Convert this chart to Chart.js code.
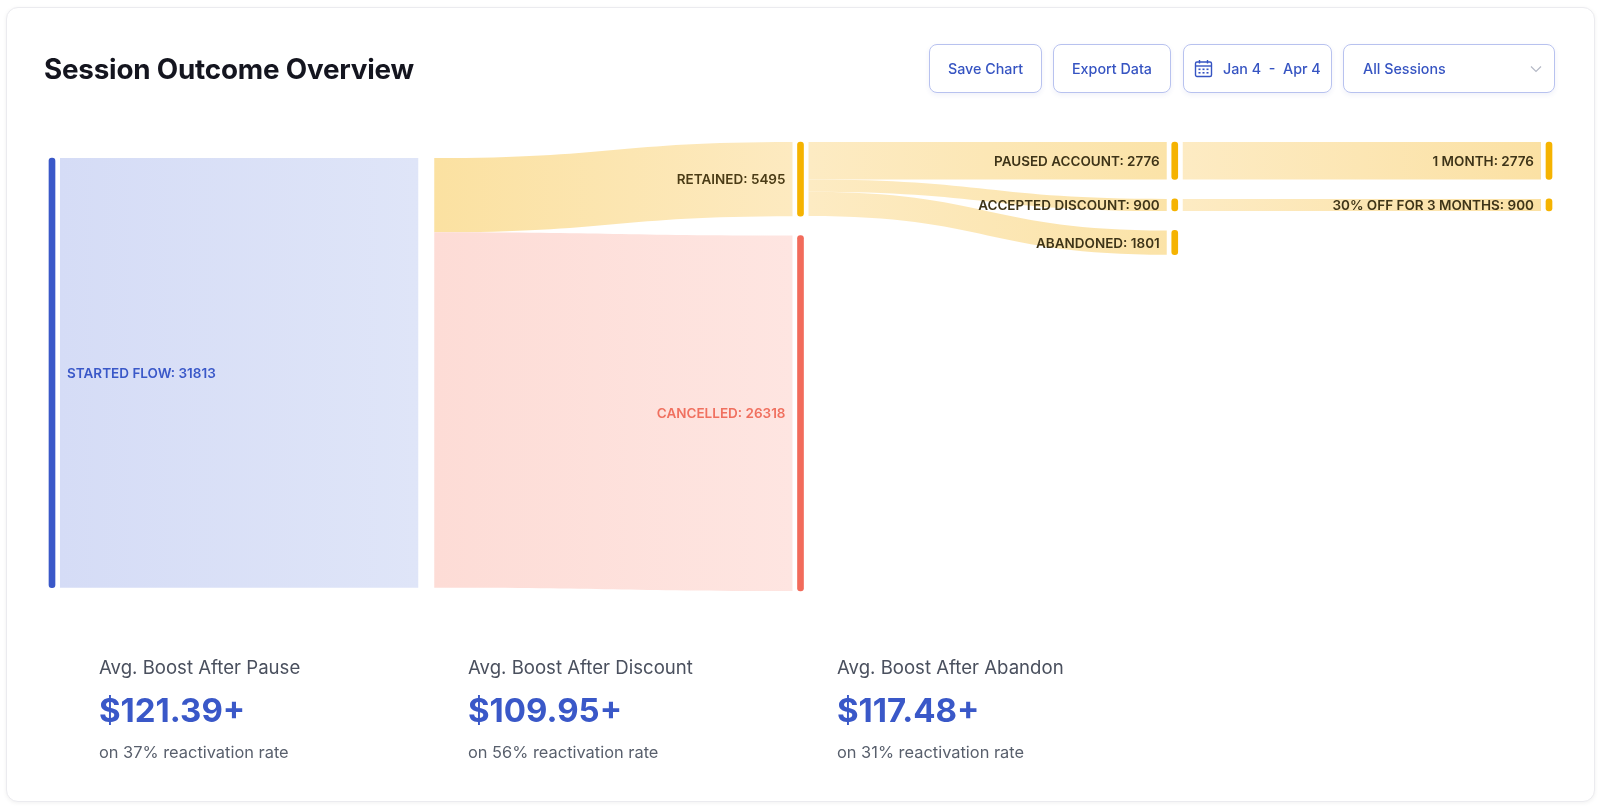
<!DOCTYPE html>
<html>
<head>
<meta charset="utf-8">
<script src="https://cdn.jsdelivr.net/npm/chart.js@4.4.1/dist/chart.umd.min.js"></script>
<style>
html,body{margin:0;padding:0;background:#ffffff;width:1600px;height:808px;overflow:hidden;font-family:Inter,"Noto Sans",sans-serif;}
.card{position:absolute;left:6px;top:7px;width:1587px;height:793px;border:1px solid #ebebef;border-radius:12px;box-shadow:0 1px 4px rgba(0,0,0,0.06);background:#fff;}
#wrap{position:absolute;left:0;top:0;width:1600px;height:808px;}
.title{position:absolute;left:44px;top:49px;margin:0;font-size:27.8px;font-weight:700;color:#14151f;line-height:40px;letter-spacing:-0.2px;white-space:nowrap;}
.btn{position:absolute;top:44px;height:49px;box-sizing:border-box;border:1.6px solid #b8c2ef;border-radius:8px;color:#3654c2;font-size:14.3px;font-weight:500;display:flex;align-items:center;background:#fff;box-shadow:0 2px 5px rgba(60,80,180,0.08);white-space:nowrap;}
.stat{position:absolute;white-space:nowrap;}
.sl{font-size:18.6px;color:#4a505e;line-height:26px;}
.sv{font-size:33px;font-weight:700;color:#3a58c8;line-height:42px;}
.ss{font-size:16.4px;color:#585f6c;line-height:22px;}
</style>
</head>
<body>
<div class="card"></div>
<div id="wrap"><canvas id="c"></canvas></div>
<div class="title">Session Outcome Overview</div>
<div class="btn" style="left:929px;width:113px;justify-content:center;">Save Chart</div>
<div class="btn" style="left:1053px;width:118px;justify-content:center;">Export Data</div>
<div class="btn" style="left:1183px;width:149px;padding-left:10px;">
  <svg width="19" height="19" viewBox="0 0 19 19" style="margin-right:10px">
    <rect x="1.5" y="3" width="16" height="14.5" rx="1.5" fill="none" stroke="#3654c2" stroke-width="1.4"/>
    <line x1="1.5" y1="7" x2="17.5" y2="7" stroke="#3654c2" stroke-width="1.4"/>
    <line x1="5.5" y1="1" x2="5.5" y2="4.5" stroke="#3654c2" stroke-width="1.4"/>
    <line x1="13.5" y1="1" x2="13.5" y2="4.5" stroke="#3654c2" stroke-width="1.4"/>
    <g fill="#3654c2"><rect x="4.5" y="9.5" width="2" height="1.6"/><rect x="8.5" y="9.5" width="2" height="1.6"/><rect x="12.5" y="9.5" width="2" height="1.6"/><rect x="4.5" y="13" width="2" height="1.6"/><rect x="8.5" y="13" width="2" height="1.6"/><rect x="12.5" y="13" width="2" height="1.6"/></g>
  </svg>
  <span>Jan 4&nbsp;&nbsp;-&nbsp;&nbsp;Apr 4</span>
</div>
<div class="btn" style="left:1343px;width:212px;padding-left:19px;">
  <span>All Sessions</span>
  <svg width="12" height="8" viewBox="0 0 12 8" style="position:absolute;left:186px;top:20px"><polyline points="1,1.5 6,6.5 11,1.5" fill="none" stroke="#b5b9c6" stroke-width="1.2"/></svg>
</div>

<div class="stat sl" style="left:99px;top:654px;">Avg. Boost After Pause</div>
<div class="stat sv" style="left:99px;top:689px;">$121.39+</div>
<div class="stat ss" style="left:99px;top:741px;">on 37% reactivation rate</div>
<div class="stat sl" style="left:468px;top:654px;">Avg. Boost After Discount</div>
<div class="stat sv" style="left:468px;top:689px;">$109.95+</div>
<div class="stat ss" style="left:468px;top:741px;">on 56% reactivation rate</div>
<div class="stat sl" style="left:837px;top:654px;">Avg. Boost After Abandon</div>
<div class="stat sv" style="left:837px;top:689px;">$117.48+</div>
<div class="stat ss" style="left:837px;top:741px;">on 31% reactivation rate</div>

<script>
// ---------- DATA ----------
const nodeNames   = ['Started Flow', '', 'Retained', 'Cancelled', 'Paused Account', 'Accepted Discount', 'Abandoned', '1 Month', '30% Off For 3 Months'];
const nodeColumns = [0, 1, 2, 2, 3, 3, 3, 4, 4];
const linkSources = [0, 1, 1, 2, 2, 2, 4, 5];
const linkTargets = [1, 2, 3, 4, 5, 6, 7, 8];
const linkValues  = [31813, 5495, 26318, 2776, 900, 1801, 2776, 900];

// ---------- STYLES ----------
const nodeColors = ['#3a58c8', 'rgba(0,0,0,0)', '#f5b301', '#f26b5b', '#f5b301', '#f5b301', '#f5b301', '#f5b301', '#f5b301'];
const labelColors = ['#3a58c8', null, '#4b3c16', '#f0705f', '#3e3418', '#3e3418', '#3e3418', '#3e3418', '#3e3418'];
const linkGradients = [
  ['#d5dcf6', '#dfe5f8'],
  ['#fbe1a1', '#fdeac0'],
  ['#fddcd6', '#fee5e1'],
  ['#fdebc3', '#fbe3a8'],
  ['#fdebc3', '#fbe3a8'],
  ['#fdebc3', '#fbe3a8'],
  ['#fdebc3', '#fbe1a4'],
  ['#fdebc3', '#fbe1a4']
];
const NODE_PAD = 1436;     // vertical gap between nodes (value units)
const SINGLE_ALIGN = 0.83; // vertical alignment of single-node columns
const NODE_W = 6, FLOW_GAP = 5, LABEL_GAP = 12;

// ---------- LAYOUT ----------
const N = nodeNames.length;
const inSum = new Array(N).fill(0), outSum = new Array(N).fill(0);
linkValues.forEach((v, i) => { outSum[linkSources[i]] += v; inSum[linkTargets[i]] += v; });
const nodeValues = nodeNames.map((_, i) => Math.max(inSum[i], outSum[i]));
const maxCol = Math.max(...nodeColumns);
const cols = [];
for (let c = 0; c <= maxCol; c++) cols.push(nodeNames.map((_, i) => i).filter(i => nodeColumns[i] === c));
const colExtent = cols.map(ns => ns.reduce((s, i) => s + nodeValues[i], 0) + NODE_PAD * (ns.length - 1));
const yMax = Math.max(...colExtent);
const nodeY0 = new Array(N).fill(0);
const outOff = new Array(N).fill(0), inOff = new Array(N).fill(0);
const linkSY = [], linkTY = [];
cols.forEach((ns, c) => {
  if (ns.length === 1) {
    nodeY0[ns[0]] = (yMax - nodeValues[ns[0]]) * SINGLE_ALIGN;
  } else if (c === maxCol) {
    ns.forEach(i => {
      const li = linkTargets.indexOf(i);
      nodeY0[i] = li >= 0 ? linkSY[li] : 0;
    });
  } else {
    let cur = 0;
    ns.forEach(i => { nodeY0[i] = cur; cur += nodeValues[i] + NODE_PAD; });
  }
  linkSources.forEach((s, li) => {
    if (nodeColumns[s] === c) { linkSY[li] = nodeY0[s] + outOff[s]; outOff[s] += linkValues[li]; }
  });
});
linkTargets.forEach((t, li) => { linkTY[li] = nodeY0[t] + inOff[t]; inOff[t] += linkValues[li]; });

const barData = nodeNames.map((_, i) => ({ x: nodeColumns[i], y: [nodeY0[i], nodeY0[i] + nodeValues[i]] }));

// ---------- PLUGIN: flows + labels ----------
const sankeyPlugin = {
  id: 'sankeyFlows',
  beforeDatasetsDraw(chart) {
    const { ctx, scales: { x, y } } = chart;
    ctx.save();
    linkValues.forEach((v, li) => {
      const s = linkSources[li], t = linkTargets[li];
      const sx = x.getPixelForValue(nodeColumns[s]) + NODE_W / 2 + FLOW_GAP;
      const tx = x.getPixelForValue(nodeColumns[t]) - NODE_W / 2 - FLOW_GAP;
      const sy0 = y.getPixelForValue(linkSY[li]), sy1 = y.getPixelForValue(linkSY[li] + v);
      const ty0 = y.getPixelForValue(linkTY[li]), ty1 = y.getPixelForValue(linkTY[li] + v);
      const mx = (sx + tx) / 2;
      const g = ctx.createLinearGradient(sx, 0, tx, 0);
      g.addColorStop(0, linkGradients[li][0]);
      g.addColorStop(1, linkGradients[li][1]);
      ctx.fillStyle = g;
      ctx.beginPath();
      ctx.moveTo(sx, sy0);
      ctx.bezierCurveTo(mx, sy0, mx, ty0, tx, ty0);
      ctx.lineTo(tx, ty1);
      ctx.bezierCurveTo(mx, ty1, mx, sy1, sx, sy1);
      ctx.closePath();
      ctx.fill();
    });
    ctx.restore();
  },
  afterDatasetsDraw(chart) {
    const { ctx, scales: { x, y } } = chart;
    ctx.save();
    ctx.font = '600 13.5px Inter, "Noto Sans", sans-serif';
    ctx.textBaseline = 'middle';
    nodeNames.forEach((name, i) => {
      if (!name) return;
      const cx = x.getPixelForValue(nodeColumns[i]);
      const cy = (y.getPixelForValue(nodeY0[i]) + y.getPixelForValue(nodeY0[i] + nodeValues[i])) / 2;
      const txt = name.toUpperCase() + ': ' + nodeValues[i];
      ctx.fillStyle = labelColors[i];
      if (nodeColumns[i] === 0) { ctx.textAlign = 'left'; ctx.fillText(txt, cx + NODE_W / 2 + LABEL_GAP, cy + 1); }
      else { ctx.textAlign = 'right'; ctx.fillText(txt, cx - NODE_W / 2 - LABEL_GAP, cy + 1); }
    });
    ctx.restore();
  }
};

new Chart(document.getElementById('c'), {
  type: 'bar',
  data: {
    datasets: [{
      data: barData,
      backgroundColor: nodeColors,
      barThickness: NODE_W,
      borderRadius: 3,
      borderSkipped: false,
      clip: false
    }]
  },
  options: {
    responsive: true,
    maintainAspectRatio: false,
    animation: false,
    events: [],
    layout: { padding: { left: 52, right: 51, top: 142, bottom: 217 } },
    plugins: { legend: { display: false }, tooltip: { enabled: false }, title: { display: false } },
    scales: {
      x: { type: 'linear', min: 0, max: maxCol, offset: false, display: false },
      y: { type: 'linear', min: 0, max: yMax, reverse: true, display: false }
    }
  },
  plugins: [sankeyPlugin]
});
</script>
</body>
</html>
